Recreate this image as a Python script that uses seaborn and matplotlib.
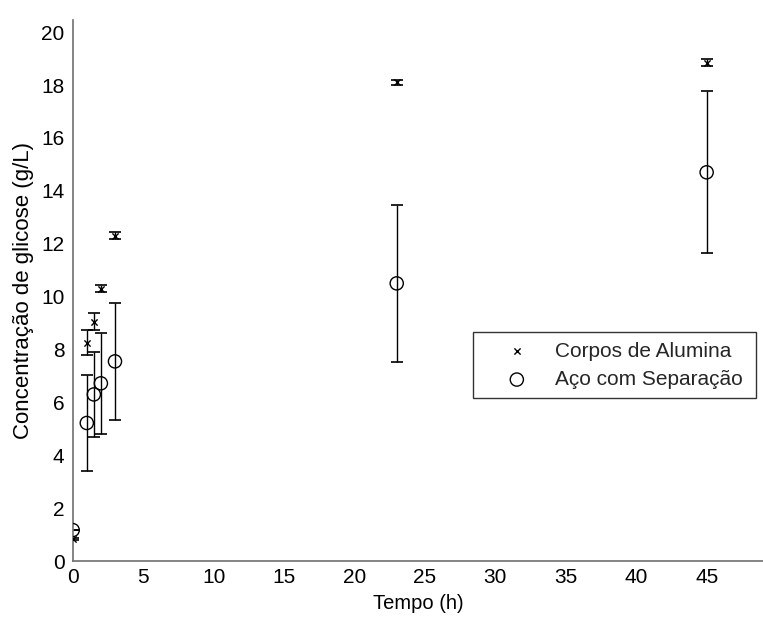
import matplotlib
matplotlib.use("Agg")
import matplotlib.pyplot as plt
import seaborn as sns
import numpy as np

tempo = [0, 1, 1.5, 2, 3, 23, 45]
alumina = [0.83, 8.25, 9.05, 10.30, 12.30, 18.10, 18.85]
alumina_err = [0.05, 0.47, 0.33, 0.14, 0.14, 0.11, 0.14]
aco = [1.17, 5.22, 6.30, 6.72, 7.55, 10.50, 14.70]
aco_err = [0.0, 1.81, 1.62, 1.92, 2.21, 2.97, 3.07]

sns.set_theme(style="white")
plt.rcParams['font.family'] = ['Liberation Sans', 'DejaVu Sans']

fig = plt.figure(figsize=(7.63, 6.18), dpi=100)
ax = fig.add_axes([0.0953, 0.0922, 0.9047, 0.875])

ax.errorbar(tempo, alumina, yerr=alumina_err, fmt='none', ecolor='black',
            elinewidth=1, capsize=4.5, capthick=1.2, zorder=2)
ax.errorbar(tempo, aco, yerr=aco_err, fmt='none', ecolor='black',
            elinewidth=1, capsize=4.5, capthick=1.2, zorder=2)

sns.scatterplot(x=tempo, y=alumina, marker='x', color='black', s=20,
                linewidth=1, label='Corpos de Alumina', ax=ax, zorder=3)
sns.scatterplot(x=tempo, y=aco, marker='o', facecolor='none', edgecolor='black',
                s=90, linewidth=1, label='Aço com Separação', ax=ax, zorder=3)

ax.set_xlim(0, 49)
ax.set_ylim(0, 20.45)
ax.set_xticks(np.arange(0, 50, 5))
ax.set_yticks(np.arange(0, 21, 2))

for s in ['top', 'right']:
    ax.spines[s].set_visible(False)
for s in ['left', 'bottom']:
    ax.spines[s].set_color('#707070')
    ax.spines[s].set_linewidth(1.2)

ax.tick_params(axis='both', direction='in', length=5, width=1, color='#404040',
               labelsize=15, labelcolor='black')
ax.tick_params(axis='y', pad=6)
ax.tick_params(axis='x', pad=5)

ax.set_xlabel('Tempo (h)', fontsize=14.5, color='black', labelpad=5)
ax.set_ylabel('Concentração de glicose (g/L)', fontsize=16, color='black', labelpad=5)

leg = ax.legend(loc='upper left', bbox_to_anchor=(0.58, 0.283, 0.41, 0.14),
                mode='expand', fontsize=15, frameon=True, fancybox=False,
                borderaxespad=0, handlelength=3.3, handletextpad=0.2,
                borderpad=0.45, labelspacing=0.45)
leg.get_frame().set_edgecolor('black')
leg.get_frame().set_linewidth(1)

fig.savefig('out.png', dpi=100)
